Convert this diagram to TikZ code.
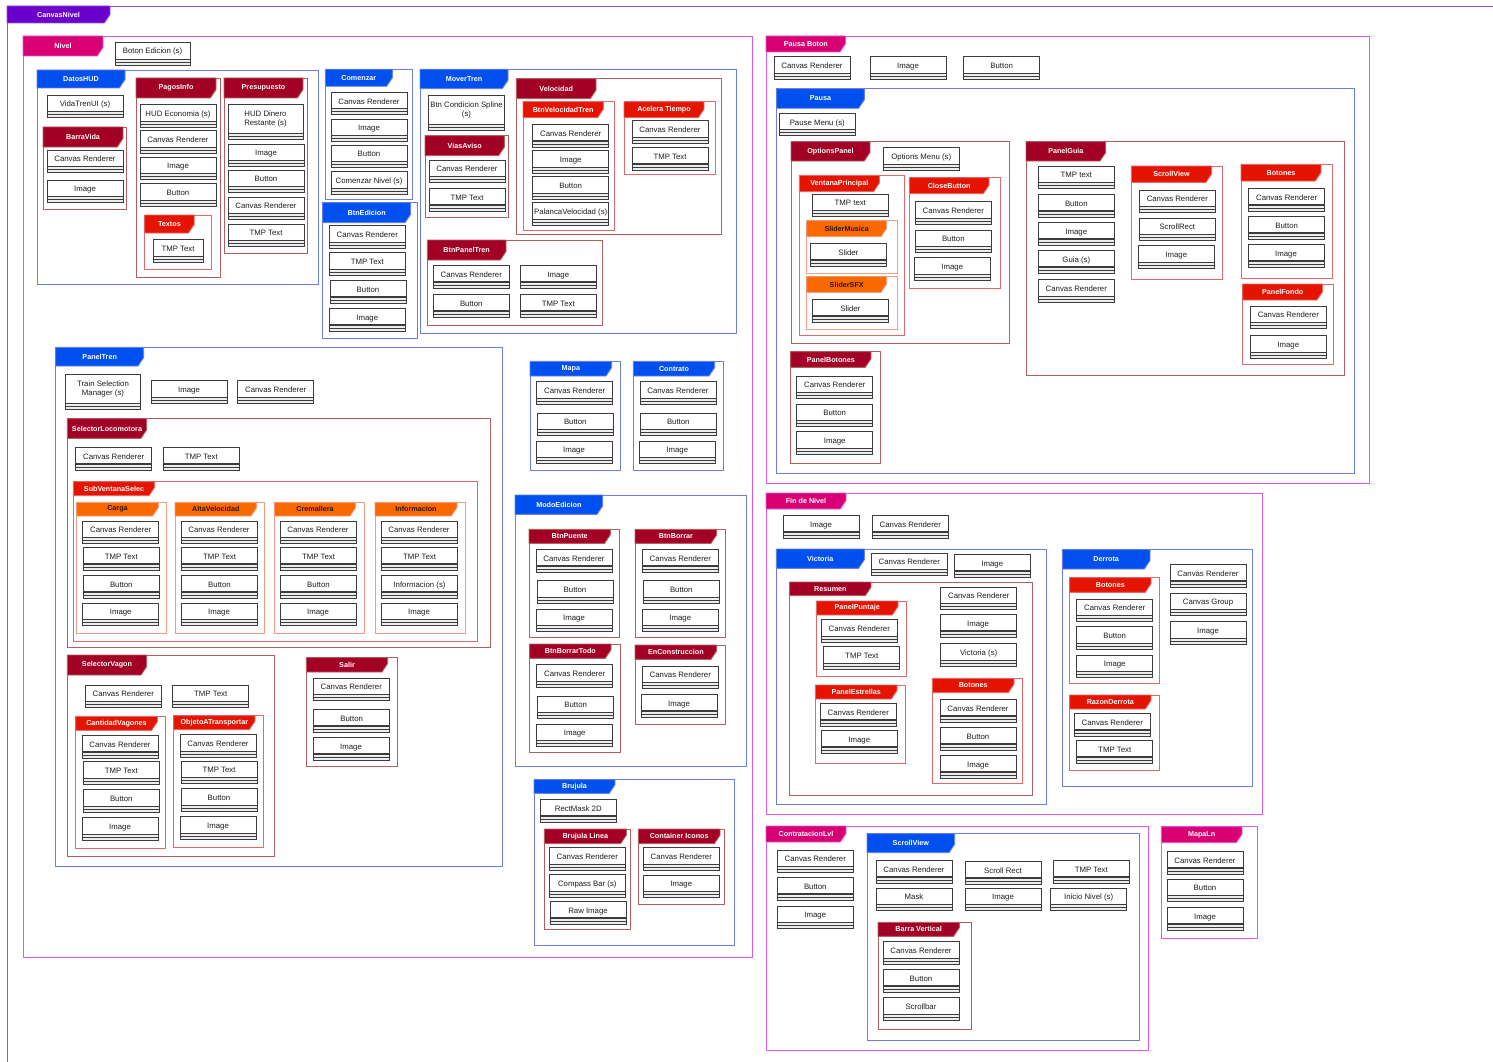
\documentclass[tikz,border=0pt]{standalone}
\usepackage{fontspec}
\setmainfont{Liberation Sans}

% frame families: border colour, tab fill, tab text
\definecolor{purline}{HTML}{9B4DE0}
\definecolor{purtab}{HTML}{6A00CC}
\colorlet{purtxt}{white}
\definecolor{magline}{HTML}{E05AE6}
\definecolor{magtab}{HTML}{D80073}
\colorlet{magtxt}{white}
\definecolor{bluline}{HTML}{6B7FE0}
\definecolor{blutab}{HTML}{0050EF}
\colorlet{blutxt}{white}
\definecolor{drdline}{HTML}{B0605E}
\definecolor{drdtab}{HTML}{A20025}
\colorlet{drdtxt}{white}
\definecolor{redline}{HTML}{E06B6B}
\definecolor{redtab}{HTML}{E51400}
\colorlet{redtxt}{white}
\definecolor{orgline}{HTML}{EE9E80}
\definecolor{orgtab}{HTML}{FA6800}
\definecolor{orgtxt}{HTML}{2A1400}
% component boxes
\definecolor{boxline}{HTML}{3C3C3C}
\definecolor{boxtext}{HTML}{1E1E1E}
\definecolor{stripfill}{HTML}{EDEDED}

\tikzset{
  frameline/.style={line width=0.9pt},
  comp/.style={draw=boxline, fill=white, line width=0.75pt, outer sep=0pt, inner sep=1pt,
    anchor=north west, align=center, font=\fontsize{7.8}{9}\selectfont, text=boxtext,
    text height=8.6pt, text depth=1.6pt},
  comptwo/.style={comp, text height={}, text depth={}},
  strip/.style={draw=boxline, fill=stripfill, line width=0.6pt},
  tablabel/.style={font=\fontsize{7.2}{8.6}\selectfont\bfseries, inner sep=0pt},
}

% frame with a cut-corner tab: family, name, x1, y1, x2, y2, tab width, tab height, label
\newcommand{\fr}[9]{%
  \draw[#1line, frameline] (#3,#4) rectangle (#5,#6);
  \filldraw[fill=#1tab, draw=#1line, frameline] (#3,#4) -- ({#3+#7},#4)
    -- ({#3+#7},{#4+max(0,#8-8.5)}) -- ({#3+#7-5.7},{#4+#8}) -- (#3,{#4+#8}) -- cycle;
  \node[tablabel, text=#1txt] (#2) at ({#3+#7/2},{#4+#8/2}) {#9};
}

% component box with the double strip at its foot: [style] name, x, y, width, height, text
\newcommand{\cbx}[7][comp]{%
  \node[#1, minimum width={#5}, minimum height={#6-6}] (#2) at (#3,#4) {#7};
  \draw[strip] (#2.south west) rectangle ([yshift=-3pt]#2.south east);
  \draw[strip] ([yshift=-3pt]#2.south west) rectangle ([yshift=-6pt]#2.south east);
}
\newcommand{\cb}[4]{\cbx{#1}{#2}{#3}{76}{22.5}{#4}}

\begin{document}
\begin{tikzpicture}[x=1pt,y=-1pt]
\useasboundingbox[fill=white] (0,0) rectangle (1493,1062);

% ---------------- CanvasNivel ----------------
\draw[purline, frameline] (1493,6) -- (7,6) -- (7,1062);
\filldraw[fill=purtab, draw=purline, frameline] (7,6) -- (110,6) -- (110,14.5) -- (104.3,23) -- (7,23) -- cycle;
\node[tablabel, text=white] (canvasNivel) at (58.5,14.5) {CanvasNivel};

% ---------------- Nivel ----------------
\fr{mag}{nivel}{23}{36}{752}{957}{80}{20}{Nivel}
\cbx{botonEdicion}{115}{42}{75}{23}{Boton Edicion (s)}

% DatosHUD
\fr{blu}{datosHUD}{37}{70}{318}{284}{88}{18}{DatosHUD}
\cb{vidaTren}{47}{95}{VidaTrenUI (s)}
\fr{drd}{barraVida}{43}{127}{126}{209}{80}{20}{BarraVida}
\cb{bvCanvas}{47}{150}{Canvas Renderer}
\cb{bvImage}{47}{180}{Image}
\fr{drd}{pagosInfo}{136}{78}{220}{277}{80}{20}{PagosInfo}
\cb{piHud}{140}{104.7}{HUD Economia (s)}
\cb{piCanvas}{140}{130.7}{Canvas Renderer}
\cb{piImage}{140}{157}{Image}
\cb{piButton}{140}{183.7}{Button}
\fr{red}{textos}{144.7}{215}{211.7}{269}{49.5}{18}{Textos}
\cbx{txTmp}{153}{239}{50}{23}{TMP Text}
\fr{drd}{presupuesto}{224}{78}{307}{253}{79}{20}{Presupuesto}
\cbx[comptwo]{prHud}{228}{104}{75}{35}{HUD Dinero\\Restante (s)}
\cb{prImage}{228}{144}{Image}
\cb{prButton}{228}{170}{Button}
\cb{prCanvas}{228}{197}{Canvas Renderer}
\cb{prTmp}{228}{224}{TMP Text}

% Comenzar
\fr{blu}{comenzar}{325.3}{69.3}{412.3}{199.3}{67}{17}{Comenzar}
\cb{coCanvas}{331}{92.3}{Canvas Renderer}
\cb{coImage}{331}{119}{Image}
\cb{coButton}{331}{145}{Button}
\cb{coNivel}{331}{171.7}{Comenzar Nivel (s)}

% BtnEdicion
\fr{blu}{btnEdicion}{322.7}{202.7}{417.7}{338.3}{88}{20}{BtnEdicion}
\cb{beCanvas}{329.3}{225.7}{Canvas Renderer}
\cb{beTmp}{329.3}{252.7}{TMP Text}
\cb{beButton}{330}{280.3}{Button}
\cb{beImage}{329.3}{308.3}{Image}

% MoverTren
\fr{blu}{moverTren}{420}{69.3}{736.7}{333.3}{88}{19.4}{MoverTren}
\cbx[comptwo]{mtSpline}{428.7}{95.7}{75.6}{35}{Btn Condicion Spline\\(s)}
\fr{drd}{viasAviso}{425}{135.7}{508.3}{217.7}{79.3}{20}{ViasAviso}
\cb{vaCanvas}{429}{160}{Canvas Renderer}
\cb{vaTmp}{429}{188.3}{TMP Text}
\fr{drd}{velocidad}{516.3}{78.7}{721.7}{234}{79.7}{20}{Velocidad}
\fr{red}{btnVelTren}{523}{101.7}{614.7}{230.3}{80.3}{16}{BtnVelocidadTren}
\cb{bvtCanvas}{532.7}{124.3}{Canvas Renderer}
\cb{bvtImage}{532.7}{150.7}{Image}
\cb{bvtButton}{532.7}{176.7}{Button}
\cb{bvtPalanca}{532.7}{202.7}{PalancaVelocidad (s)}
\fr{red}{aceleraTiempo}{624}{101.7}{715.7}{174.7}{80}{16}{Acelera Tiempo}
\cb{atCanvas}{632}{120.7}{Canvas Renderer}
\cb{atTmp}{632}{147.3}{TMP Text}
\fr{drd}{btnPanelTren}{427.3}{240}{602}{325.7}{78.7}{20}{BtnPanelTren}
\cb{bptCanvas}{433.3}{265.3}{Canvas Renderer}
\cb{bptImage}{520.3}{265.3}{Image}
\cb{bptButton}{433.3}{294.3}{Button}
\cb{bptTmp}{520.3}{294.3}{TMP Text}

% PanelTren
\fr{blu}{panelTren}{55.7}{347.3}{502.3}{866.7}{88}{18.7}{PanelTren}
\cbx[comptwo]{ptTrain}{65.3}{374.3}{75.4}{35}{Train Selection\\Manager (s)}
\cb{ptImage}{151}{380.7}{Image}
\cb{ptCanvas}{237.7}{380.7}{Canvas Renderer}
\fr{drd}{selLoco}{67.3}{418.7}{490}{647}{79.4}{19.6}{SelectorLocomotora}
\cb{slCanvas}{75.7}{447.3}{Canvas Renderer}
\cb{slTmp}{163.3}{447.3}{TMP Text}
\fr{red}{subVentana}{73.3}{481.7}{477.3}{641}{81.4}{14}{SubVentanaSelec}
\fr{org}{carga}{76.7}{502.3}{166.7}{633.7}{81.6}{13.7}{Carga}
\cb{caCanvas}{82.7}{521}{Canvas Renderer}
\cb{caTmp}{83.3}{547.3}{TMP Text}
\cb{caButton}{83.3}{575.3}{Button}
\cb{caImage}{82.7}{603}{Image}
\fr{org}{altaVel}{175}{502.3}{264.3}{633.7}{81.7}{13.7}{AltaVelocidad}
\cb{avCanvas}{181}{521}{Canvas Renderer}
\cb{avTmp}{181.5}{547.3}{TMP Text}
\cb{avButton}{181.5}{575.3}{Button}
\cb{avImage}{181}{603}{Image}
\fr{org}{cremallera}{274.3}{502.3}{364}{633.7}{81.4}{13.7}{Cremallera}
\cb{crCanvas}{280}{521}{Canvas Renderer}
\cb{crTmp}{280.5}{547.3}{TMP Text}
\cb{crButton}{280.5}{575.3}{Button}
\cb{crImage}{280}{603}{Image}
\fr{org}{informacion}{375}{502.3}{465.7}{633.7}{82}{13.7}{Informacion}
\cb{inCanvas}{381}{521}{Canvas Renderer}
\cb{inTmp}{381.5}{547.3}{TMP Text}
\cb{inScript}{381.5}{575.3}{Informacion (s)}
\cb{inImage}{381}{603}{Image}
\fr{drd}{selVagon}{67.3}{655}{274}{856}{79.4}{20}{SelectorVagon}
\cb{svCanvas}{85.3}{685}{Canvas Renderer}
\cb{svTmp}{172.7}{685}{TMP Text}
\fr{red}{cantVagones}{75.7}{716.3}{165.3}{848.3}{81.6}{14}{CantidadVagones}
\cb{cvCanvas}{82}{735.3}{Canvas Renderer}
\cb{cvTmp}{83.3}{761.7}{TMP Text}
\cb{cvButton}{83.3}{789.7}{Button}
\cb{cvImage}{82}{817.7}{Image}
\fr{red}{objTrans}{173.7}{715.7}{263.3}{847.3}{81.3}{14}{ObjetoATransportar}
\cb{otCanvas}{180}{734.7}{Canvas Renderer}
\cb{otTmp}{181}{761}{TMP Text}
\cb{otButton}{181}{788.7}{Button}
\cb{otImage}{180}{816.7}{Image}
\fr{drd}{salir}{306.3}{657.7}{397}{766.3}{81.4}{14.3}{Salir}
\cb{saCanvas}{313.3}{678}{Canvas Renderer}
\cb{saButton}{313.7}{709.3}{Button}
\cb{saImage}{313}{737.3}{Image}

% Mapa, Contrato
\fr{blu}{mapa}{530}{361.3}{620.7}{470}{81.7}{14.7}{Mapa}
\cb{maCanvas}{536.7}{381.7}{Canvas Renderer}
\cb{maButton}{537.3}{413}{Button}
\cb{maImage}{536}{441}{Image}
\fr{blu}{contrato}{633.3}{361.3}{723.3}{470}{81.4}{14.7}{Contrato}
\cb{ctCanvas}{640}{381.7}{Canvas Renderer}
\cb{ctButton}{640.3}{413}{Button}
\cb{ctImage}{639.3}{441}{Image}

% ModoEdicion
\fr{blu}{modoEdicion}{515}{495}{746.7}{766.7}{87.7}{19.3}{ModoEdicion}
\fr{drd}{btnPuente}{529}{529.3}{619.7}{637.3}{81.3}{14}{BtnPuente}
\cb{bpCanvas}{536}{549.3}{Canvas Renderer}
\cb{bpButton}{537}{580.7}{Button}
\cb{bpImage}{536}{609}{Image}
\fr{drd}{btnBorrar}{635}{529.3}{725.7}{637.3}{81.7}{14}{BtnBorrar}
\cb{bbCanvas}{642.3}{549.3}{Canvas Renderer}
\cb{bbButton}{643.3}{580.7}{Button}
\cb{bbImage}{642.3}{609}{Image}
\fr{drd}{btnBorrarTodo}{529.7}{644}{620}{752.7}{81.3}{14.3}{BtnBorrarTodo}
\cb{btCanvas}{536.7}{664.7}{Canvas Renderer}
\cb{btButton}{537.7}{696}{Button}
\cb{btImage}{536.7}{724}{Image}
\fr{drd}{enConstruccion}{635}{645}{725.7}{724.3}{81.7}{14.3}{EnConstruccion}
\cb{ecCanvas}{642.3}{666}{Canvas Renderer}
\cb{ecImage}{641}{694.3}{Image}

% Brujula
\fr{blu}{brujula}{534}{779.7}{734.3}{945.7}{81}{13.6}{Brujula}
\cb{brRect}{540.3}{799.3}{RectMask 2D}
\fr{drd}{brujulaLinea}{544.3}{829}{630.3}{929.7}{82}{14.7}{Brujula Linea}
\cb{blCanvas}{549.3}{847.7}{Canvas Renderer}
\cb{blCompass}{549.3}{874.7}{Compass Bar (s)}
\cb{blRaw}{550}{901.3}{Raw Image}
\fr{drd}{contIconos}{638.3}{829}{724}{904.3}{81.7}{14.7}{Container Iconos}
\cb{ciCanvas}{643.3}{847.7}{Canvas Renderer}
\cb{ciImage}{643.3}{875}{Image}

% ---------------- Pausa Boton ----------------
\fr{mag}{pausaBoton}{766}{36}{1369}{483}{79.7}{16}{Pausa Boton}
\cb{pbCanvas}{774}{56.7}{Canvas Renderer}
\cb{pbImage}{870}{56.7}{Image}
\cb{pbButton}{963.7}{56.7}{Button}
\fr{blu}{pausa}{776.7}{88.7}{1354}{473}{87.6}{19.6}{Pausa}
\cb{paMenu}{779.3}{113.3}{Pause Menu (s)}
\fr{drd}{optionsPanel}{791}{141.7}{1009.3}{343.3}{79}{19.3}{OptionsPanel}
\cb{opMenu}{883.3}{147.7}{Options Menu (s)}
\fr{red}{ventanaPrincipal}{799.3}{175.3}{904.3}{335.7}{80}{16.4}{VentanaPrincipal}
\cb{vpTmp}{812.3}{194}{TMP text}
\fr{org}{sliderMusica}{806.7}{220.7}{897.7}{273.3}{80}{16}{SliderMusica}
\cb{smSlider}{810.3}{243.3}{Slider}
\fr{org}{sliderSFX}{806.7}{276.7}{897.7}{329}{80}{15.6}{SliderSFX}
\cb{sxSlider}{812.3}{299.3}{Slider}
\fr{red}{closeButton}{909.3}{177.7}{1000}{288.3}{79.7}{16}{CloseButton}
\cb{cbCanvas}{915.3}{201.7}{Canvas Renderer}
\cb{cbButton}{915.3}{230}{Button}
\cb{cbImage}{914.3}{257.7}{Image}
\fr{drd}{panelBotones}{790.7}{351.7}{880.7}{463.3}{80.3}{15.6}{PanelBotones}
\cb{pnbCanvas}{796.7}{376}{Canvas Renderer}
\cb{pnbButton}{796.7}{404}{Button}
\cb{pnbImage}{796.7}{431.7}{Image}
\fr{drd}{panelGuia}{1026}{141.7}{1344}{375.7}{79.7}{19.3}{PanelGuia}
\cb{pgTmp}{1038.3}{166}{TMP text}
\cb{pgButton}{1038.3}{194.3}{Button}
\cb{pgImage}{1038.3}{222.3}{Image}
\cb{pgGuia}{1038.3}{250.3}{Guia (s)}
\cb{pgCanvas}{1038.3}{279.7}{Canvas Renderer}
\fr{red}{pgScroll}{1131.3}{166}{1222.7}{279.3}{80.4}{16.3}{ScrollView}
\cb{psCanvas}{1139.3}{190}{Canvas Renderer}
\cb{psRect}{1139.3}{218}{ScrollRect}
\cb{psImage}{1138.3}{245.7}{Image}
\fr{red}{pgBotones}{1241}{164.3}{1332}{278}{80}{16.7}{Botones}
\cb{pbtCanvas}{1248.7}{188.3}{Canvas Renderer}
\cb{pbtButton}{1248.7}{216.3}{Button}
\cb{pbtImage}{1248}{244.3}{Image}
\fr{red}{panelFondo}{1242.7}{284}{1333.7}{364.7}{80}{16}{PanelFondo}
\cb{pfCanvas}{1250.3}{306}{Canvas Renderer}
\cb{pfImage}{1250.3}{335.7}{Image}

% ---------------- Fin de Nivel ----------------
\fr{mag}{finNivel}{766}{493}{1262.5}{814.3}{80}{16}{Fin de Nivel}
\cb{fnImage}{783}{515.3}{Image}
\cb{fnCanvas}{872.3}{515.3}{Canvas Renderer}
\fr{blu}{victoria}{776.3}{549}{1046.3}{804.3}{88}{19.3}{Victoria}
\cb{viCanvas}{871.3}{553}{Canvas Renderer}
\cb{viImage}{954.3}{554.3}{Image}
\fr{drd}{resumen}{789.7}{582}{1032.7}{795}{81.3}{13.7}{Resumen}
\cb{reCanvas}{940.7}{587}{Canvas Renderer}
\cb{reImage}{940}{614.3}{Image}
\cb{reVictoria}{940.7}{643.7}{Victoria (s)}
\fr{red}{panelPuntaje}{816.3}{601}{906.7}{676}{81.7}{14}{PanelPuntaje}
\cb{ppCanvas}{821.3}{619.7}{Canvas Renderer}
\cb{ppTmp}{823.7}{646.7}{TMP Text}
\fr{red}{panelEstrellas}{815.3}{685}{905.7}{763.3}{81.7}{14}{PanelEstrellas}
\cb{peCanvas}{820.3}{703.3}{Canvas Renderer}
\cb{peImage}{821.3}{730.3}{Image}
\fr{red}{reBotones}{932.3}{678.3}{1022.7}{783.3}{81.7}{14.3}{Botones}
\cb{rbCanvas}{940}{699.3}{Canvas Renderer}
\cb{rbButton}{940}{727.3}{Button}
\cb{rbImage}{940}{755.3}{Image}
\fr{blu}{derrota}{1062.3}{549.7}{1252.7}{786.7}{87.7}{19.3}{Derrota}
\cb{deCanvas}{1170}{564.3}{Canvas Renderer}
\cb{deGroup}{1170}{593}{Canvas Group}
\cb{deImage}{1170}{621.7}{Image}
\fr{red}{deBotones}{1069.7}{577.7}{1159.7}{683.7}{81.3}{14.6}{Botones}
\cb{dbCanvas}{1076.7}{599}{Canvas Renderer}
\cb{dbButton}{1076.7}{626.7}{Button}
\cb{dbImage}{1076.7}{655}{Image}
\fr{red}{razonDerrota}{1069.7}{695}{1159.7}{770}{81.3}{14}{RazonDerrota}
\cb{rdCanvas}{1074.3}{713.3}{Canvas Renderer}
\cb{rdTmp}{1076.7}{740.3}{TMP Text}

% ---------------- ContratacionLvl ----------------
\fr{mag}{contratacion}{766}{826}{1148.7}{1050}{80}{16}{ContratacionLvl}
\cb{clCanvas}{777.3}{850}{Canvas Renderer}
\cb{clButton}{777.3}{877.3}{Button}
\cb{clImage}{777.3}{906}{Image}
\fr{blu}{clScroll}{867}{833.7}{1139.7}{1040.7}{87.7}{19}{ScrollView}
\cb{scCanvas}{876}{860.3}{Canvas Renderer}
\cb{scRect}{965}{861.3}{Scroll Rect}
\cb{scTmp}{1053.3}{860.3}{TMP Text}
\cb{scMask}{876}{888}{Mask}
\cb{scImage}{965}{888}{Image}
\cb{scInicio}{1050.7}{888}{Inicio Nivel (s)}
\fr{drd}{barraVertical}{878}{922.3}{971.3}{1029.3}{81.3}{14}{Barra Vertical}
\cb{bvrCanvas}{883}{941.7}{Canvas Renderer}
\cb{bvrButton}{883}{969.3}{Button}
\cb{bvrScroll}{883}{997.7}{Scrollbar}

% ---------------- MapaLn ----------------
\fr{mag}{mapaLn}{1161.3}{826.7}{1257.7}{938.3}{80.7}{16}{MapaLn}
\cb{mlCanvas}{1167}{851.3}{Canvas Renderer}
\cb{mlButton}{1167}{879}{Button}
\cb{mlImage}{1167}{907.3}{Image}
\end{tikzpicture}
\end{document}
